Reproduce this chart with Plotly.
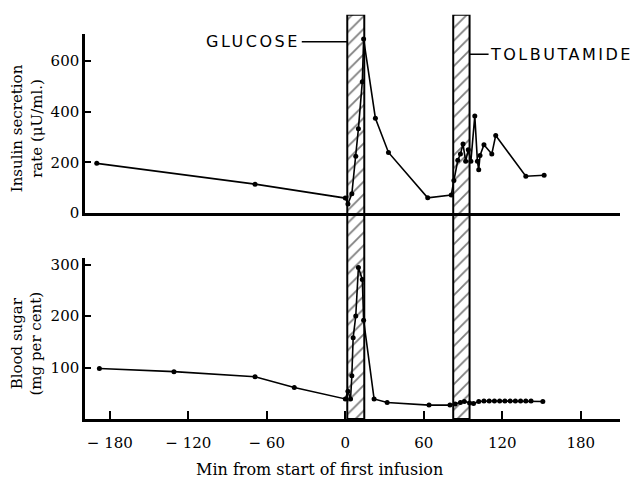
import plotly.graph_objects as go

# Insulin secretion rate (µU/ml) vs minutes from start of first infusion
ins_min = [-190, -69, 0, 2, 5, 8, 10, 13, 14, 23, 33, 63, 81, 83, 86, 88, 90, 92, 94, 96,
           99, 101, 102, 103, 106, 112, 115, 138, 152]
ins_rate = [196, 114, 59, 36, 76, 224, 332, 518, 686, 374, 239, 60, 71, 128, 208, 233, 272, 204, 250, 204,
            383, 204, 171, 227, 269, 233, 306, 145, 149]

# Blood sugar (mg per cent)
bs_min = [-188, -131, -69, -39, 0, 2, 4, 5, 6, 8, 10, 13, 14, 22, 32, 64, 80, 84, 88, 91, 95, 98,
          102, 106, 110, 114, 118, 122, 126, 130, 134, 138, 142, 151]
bs_val = [98, 92, 82, 61, 39, 54, 39, 84, 158, 200, 294, 271, 192, 39, 32, 27, 27, 29, 32, 34, 31, 30,
          34, 35, 35, 35, 35, 35, 35, 35, 35, 35, 35, 34]

# Infusion periods
infusion_names = ["GLUCOSE", "TOLBUTAMIDE"]
infusion_start = [1.5, 82.5]
infusion_end = [14.5, 95.0]

x_tickvals = [-180, -120, -60, 0, 60, 120, 180]
x_ticktext = ["\u2212 180", "\u2212 120", "\u2212 60", "0", "60", "120", "180"]
ins_ticks = [0, 200, 400, 600]
bs_ticks = [100, 200, 300]

SERIF = "DejaVu Serif"
SANS = "DejaVu Sans"

fig = go.Figure()

line_style = dict(color="black", width=1.6)
marker_style = dict(color="black", size=5)

fig.add_trace(go.Scatter(x=ins_min, y=ins_rate, xaxis="x", yaxis="y", mode="lines+markers",
                         line=line_style, marker=marker_style, showlegend=False))
fig.add_trace(go.Scatter(x=bs_min, y=bs_val, xaxis="x2", yaxis="y2", mode="lines+markers",
                         line=line_style, marker=marker_style, showlegend=False))

centers = [(s + e) / 2 for s, e in zip(infusion_start, infusion_end)]
widths = [e - s for s, e in zip(infusion_start, infusion_end)]
fig.add_trace(go.Bar(x=centers, y=[1, 1], width=widths, base=0, xaxis="x3", yaxis="y3",
                     marker=dict(color="rgba(0,0,0,0)", line=dict(color="black", width=2),
                                 pattern=dict(shape="/", fgcolor="black", size=9, solidity=0.2)),
                     showlegend=False, hoverinfo="skip"))

xr = [-199, 210]
axis_font = dict(family=SERIF, size=15, color="black")

fig.update_layout(
    width=635, height=479,
    margin=dict(l=85, r=15, t=10, b=60),
    paper_bgcolor="white", plot_bgcolor="rgba(0,0,0,0)",
    showlegend=False,
    xaxis=dict(domain=[0, 1], anchor="y", range=xr, showline=True, linewidth=3, linecolor="black",
               ticks="", showticklabels=False, showgrid=False, zeroline=False),
    yaxis=dict(domain=[0.506, 0.946], anchor="x", range=[0, 706], showline=True, linewidth=2.5,
               linecolor="black", ticks="inside", ticklen=6, tickwidth=2, tickcolor="black",
               tickvals=ins_ticks, tickfont=axis_font, showgrid=False, zeroline=False),
    xaxis2=dict(domain=[0, 1], anchor="y2", range=xr, matches="x", showline=True, linewidth=3,
                linecolor="black", ticks="inside", ticklen=8, tickwidth=2, tickcolor="black",
                tickvals=x_tickvals, ticktext=x_ticktext, tickfont=axis_font, ticklabelstandoff=8,
                showgrid=False, zeroline=False),
    yaxis2=dict(domain=[0, 0.396], anchor="x2", range=[0, 313], showline=True, linewidth=2.5,
                linecolor="black", ticks="inside", ticklen=6, tickwidth=2, tickcolor="black",
                tickvals=bs_ticks, tickfont=axis_font, showgrid=False, zeroline=False),
    xaxis3=dict(domain=[0, 1], anchor="y3", range=xr, matches="x", visible=False),
    yaxis3=dict(domain=[0, 0.993], anchor="x3", range=[0, 1], visible=False),
)

annotations = [
    dict(text="Insulin secretion<br>rate (\u03bcU/ml.)", textangle=-90, xref="paper", yref="paper",
         x=-0.108, y=0.715, xanchor="center", yanchor="middle", showarrow=False,
         font=dict(family=SERIF, size=15, color="black")),
    dict(text="Blood sugar<br>(mg per cent)", textangle=-90, xref="paper", yref="paper",
         x=-0.108, y=0.186, xanchor="center", yanchor="middle", showarrow=False,
         font=dict(family=SERIF, size=15, color="black")),
    dict(text="Min from start of first infusion", xref="paper", yref="paper",
         x=0.439, y=-0.125, xanchor="center", yanchor="middle", showarrow=False,
         font=dict(family=SERIF, size=16, color="black")),
    dict(text='<span style="letter-spacing:2.5px">' + infusion_names[0] + "</span>",
         xref="x3", yref="paper", x=infusion_start[0], y=(419 - 40) / 409,
         showarrow=True, arrowhead=0, arrowwidth=1.5, arrowcolor="black", ax=-94, ay=0,
         standoff=0, font=dict(family=SANS, size=16, color="black")),
    dict(text='<span style="letter-spacing:2.5px">' + infusion_names[1] + "</span>",
         xref="x3", yref="paper", x=infusion_end[1], y=(419 - 52.5) / 409,
         showarrow=True, arrowhead=0, arrowwidth=1.5, arrowcolor="black", ax=92, ay=0,
         standoff=0, font=dict(family=SANS, size=16, color="black")),
]
fig.update_layout(annotations=annotations)

fig.write_html("out.html", config={"displayModeBar": False},
               post_script="document.body.style.margin='0';")
